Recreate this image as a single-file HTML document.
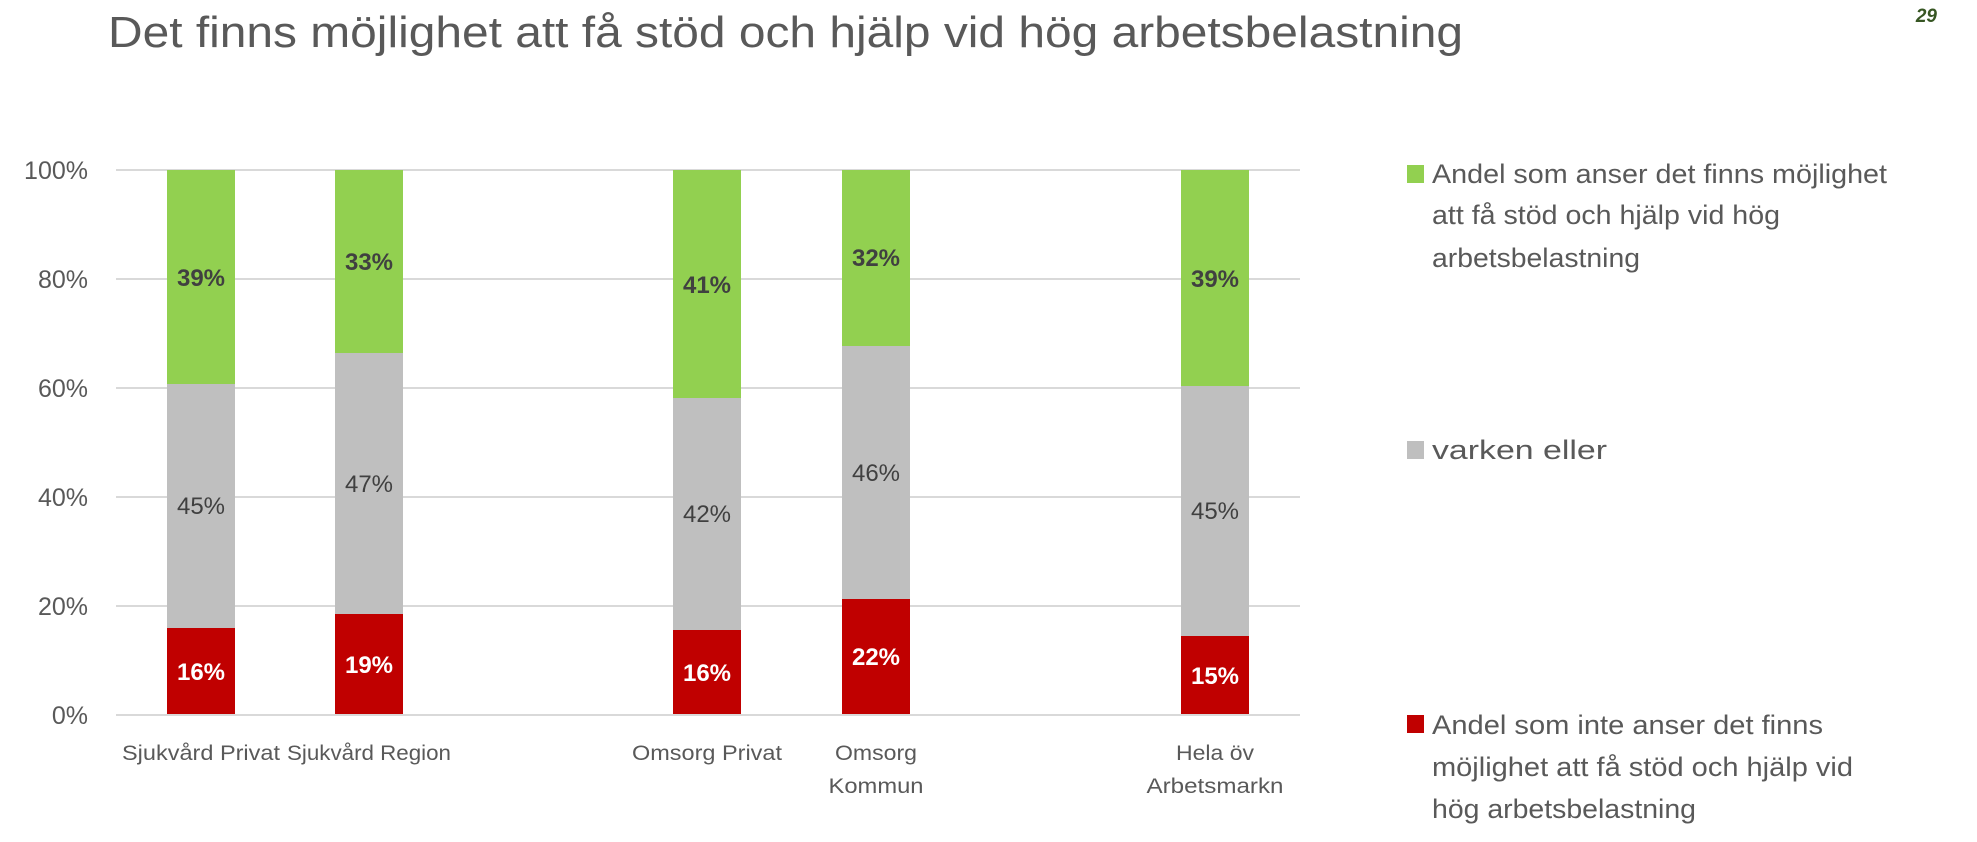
<!DOCTYPE html>
<html><head><meta charset="utf-8"><style>html,body{margin:0;padding:0;background:#fff}svg{display:block}</style></head>
<body>
<svg width="1977" height="842" xmlns="http://www.w3.org/2000/svg" font-family="Liberation Sans, sans-serif">
<text x="108" y="47" font-size="44" fill="#595959" textLength="1355" lengthAdjust="spacingAndGlyphs">Det finns möjlighet att få stöd och hjälp vid hög arbetsbelastning</text>
<text x="1937" y="22" font-size="19" font-weight="bold" font-style="italic" fill="#375623" text-anchor="end">29</text>
<g stroke="#d9d9d9" stroke-width="2">
<line x1="116" y1="170" x2="1300" y2="170"/><line x1="116" y1="279" x2="1300" y2="279"/><line x1="116" y1="388" x2="1300" y2="388"/><line x1="116" y1="497" x2="1300" y2="497"/><line x1="116" y1="606" x2="1300" y2="606"/>
</g>
<g font-size="25" fill="#595959" text-anchor="end">
<text x="88" y="179">100%</text><text x="88" y="288">80%</text><text x="88" y="397">60%</text><text x="88" y="506">40%</text><text x="88" y="615">20%</text><text x="88" y="724">0%</text>
</g>
<g>
<rect x="167" y="170" width="68" height="214" fill="#92d050"/><rect x="167" y="384" width="68" height="244" fill="#bfbfbf"/><rect x="167" y="628" width="68" height="87" fill="#c00000"/>
<rect x="335" y="170" width="68" height="183" fill="#92d050"/><rect x="335" y="353" width="68" height="261" fill="#bfbfbf"/><rect x="335" y="614" width="68" height="101" fill="#c00000"/>
<rect x="673" y="170" width="68" height="228" fill="#92d050"/><rect x="673" y="398" width="68" height="232" fill="#bfbfbf"/><rect x="673" y="630" width="68" height="85" fill="#c00000"/>
<rect x="842" y="170" width="68" height="176" fill="#92d050"/><rect x="842" y="346" width="68" height="253" fill="#bfbfbf"/><rect x="842" y="599" width="68" height="116" fill="#c00000"/>
<rect x="1181" y="170" width="68" height="216" fill="#92d050"/><rect x="1181" y="386" width="68" height="250" fill="#bfbfbf"/><rect x="1181" y="636" width="68" height="79" fill="#c00000"/>
</g>
<line x1="116" y1="715" x2="1300" y2="715" stroke="#d9d9d9" stroke-width="2"/>
<g font-size="24" text-anchor="middle">
<g font-weight="bold" fill="#404040">
<text x="201" y="286">39%</text><text x="369" y="270">33%</text><text x="707" y="293">41%</text><text x="876" y="266">32%</text><text x="1215" y="287">39%</text>
</g>
<g fill="#404040">
<text x="201" y="514">45%</text><text x="369" y="492">47%</text><text x="707" y="522">42%</text><text x="876" y="481">46%</text><text x="1215" y="519">45%</text>
</g>
<g font-weight="bold" fill="#fff">
<text x="201" y="680">16%</text><text x="369" y="673">19%</text><text x="707" y="681">16%</text><text x="876" y="665">22%</text><text x="1215" y="684">15%</text>
</g>
</g>
<g font-size="21" fill="#595959" text-anchor="middle">
<text x="201" y="760" textLength="158" lengthAdjust="spacingAndGlyphs">Sjukvård Privat</text>
<text x="369" y="760" textLength="164" lengthAdjust="spacingAndGlyphs">Sjukvård Region</text>
<text x="707" y="760" textLength="150" lengthAdjust="spacingAndGlyphs">Omsorg Privat</text>
<text x="876" y="760" textLength="82" lengthAdjust="spacingAndGlyphs">Omsorg</text><text x="876" y="793" textLength="95" lengthAdjust="spacingAndGlyphs">Kommun</text>
<text x="1215" y="760" textLength="78" lengthAdjust="spacingAndGlyphs">Hela öv</text><text x="1215" y="793" textLength="137" lengthAdjust="spacingAndGlyphs">Arbetsmarkn</text>
</g>
<g font-size="27" fill="#595959">
<rect x="1407" y="165" width="17" height="18" fill="#92d050"/>
<text x="1432" y="183" textLength="455" lengthAdjust="spacingAndGlyphs">Andel som anser det finns möjlighet</text>
<text x="1432" y="224" textLength="348" lengthAdjust="spacingAndGlyphs">att få stöd och hjälp vid hög</text>
<text x="1432" y="267" textLength="208" lengthAdjust="spacingAndGlyphs">arbetsbelastning</text>
<rect x="1407" y="441" width="17" height="18" fill="#bfbfbf"/>
<text x="1432" y="459" textLength="175" lengthAdjust="spacingAndGlyphs">varken eller</text>
<rect x="1407" y="715" width="17" height="18" fill="#c00000"/>
<text x="1432" y="734" textLength="391" lengthAdjust="spacingAndGlyphs">Andel som inte  anser det finns</text>
<text x="1432" y="776" textLength="421" lengthAdjust="spacingAndGlyphs">möjlighet att få stöd och hjälp vid</text>
<text x="1432" y="818" textLength="264" lengthAdjust="spacingAndGlyphs">hög arbetsbelastning</text>
</g>
</svg>
</body></html>
